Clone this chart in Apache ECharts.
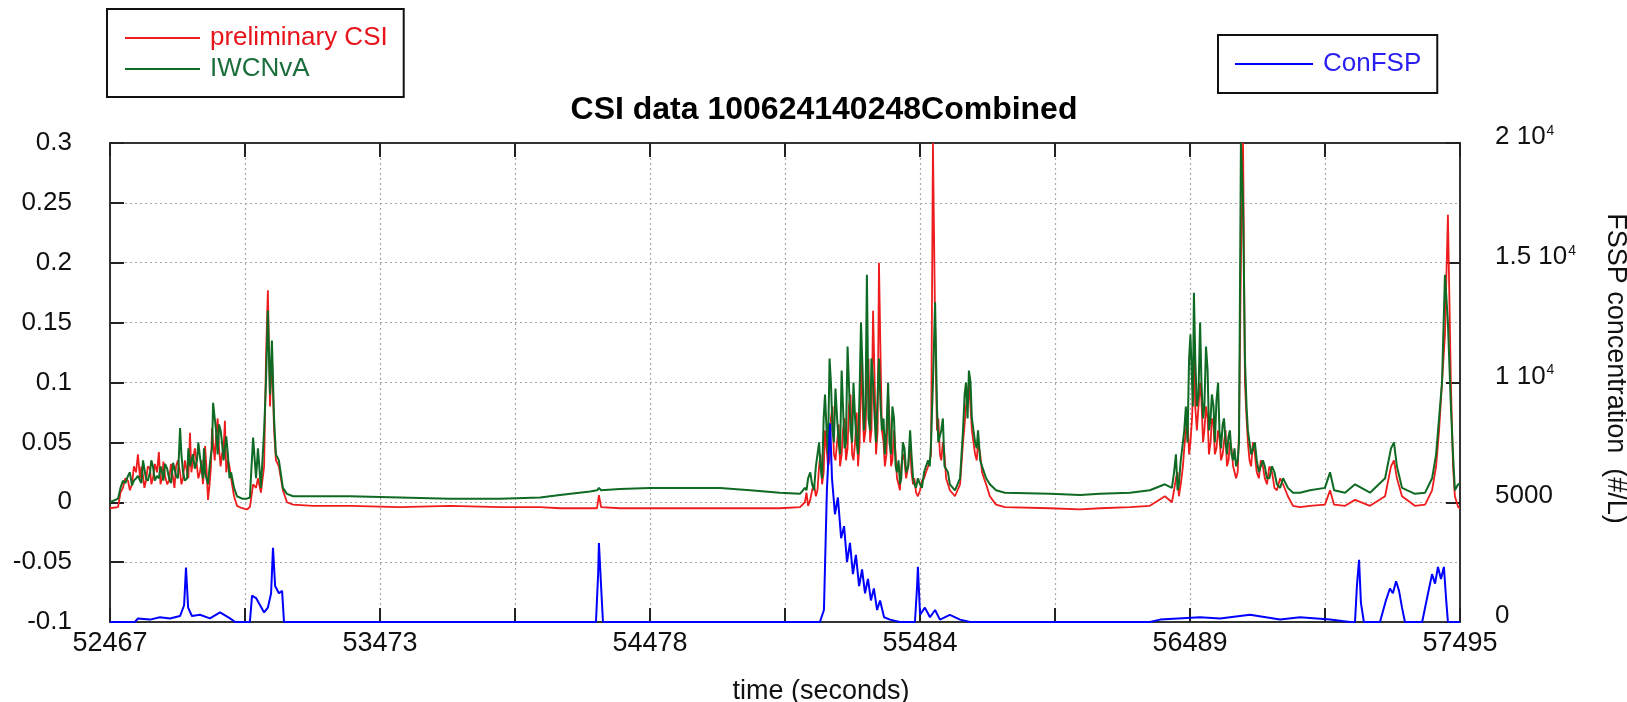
<!DOCTYPE html>
<html>
<head>
<meta charset="utf-8">
<title>CSI data 100624140248Combined</title>
<script src="https://cdn.jsdelivr.net/npm/echarts@6/dist/echarts.min.js"></script>
<style>
  html, body { margin: 0; padding: 0; background: #fff; }
  #main { width: 1627px; height: 702px; }
</style>
</head>
<body>
<div id="main"></div>
<script>
// time axis (seconds)
var T0 = 52467;
var T1 = 57495;

// CSI samples, shared time base for both CSI traces
var csiTime = [
  52467, 52497, 52515, 52534, 52549, 52564, 52571, 52579, 52590, 52601,
  52616, 52627, 52642, 52649, 52661, 52672, 52687, 52702, 52713, 52728,
  52739, 52754, 52765, 52776, 52791, 52802, 52813, 52821, 52832, 52843,
  52851, 52862, 52873, 52884, 52895, 52906, 52918, 52929, 52940, 52959,
  52977, 52988, 53000, 53011, 53018, 53029, 53041, 53048, 53055, 53063,
  53070, 53078, 53085, 53096, 53111, 53126, 53149, 53223, 53361, 53547,
  53733, 53920, 54069, 54143, 54255, 54281, 54288, 54296, 54366, 54478,
  54627, 54739, 54851, 54962, 55037, 55055, 55067, 55082, 55096, 55108,
  55119, 55130, 55141, 55152, 55163, 55175, 55186, 55197, 55208, 55219,
  55231, 55242, 55253, 55264, 55275, 55286, 55298, 55309, 55320, 55331,
  55342, 55353, 55365, 55376, 55387, 55398, 55409, 55420, 55432, 55447,
  55458, 55469, 55484, 55499, 55514, 55525, 55532, 55540, 55547, 55558,
  55569, 55581, 55595, 55614, 55633, 55644, 55655, 55666, 55677, 55689,
  55700, 55715, 55730, 55744, 55767, 55800, 55968, 56080, 56154, 56266,
  56340, 56396, 56422, 56437, 56448, 56463, 56474, 56486, 56497, 56504,
  56515, 56527, 56538, 56549, 56560, 56571, 56582, 56594, 56605, 56616,
  56627, 56638, 56650, 56661, 56672, 56679, 56687, 56694, 56705, 56717,
  56731, 56746, 56761, 56776, 56795, 56813, 56836, 56854, 56873, 56899,
  56936, 56992, 57011, 57026, 57067, 57104, 57160, 57216, 57238, 57249,
  57260, 57279, 57327, 57365, 57391, 57406, 57417, 57428, 57439, 57450,
  57461, 57469, 57476, 57488, 57495
];

// preliminary CSI
var csiPrelim = [
  -0.005, -0.004, 0.012, 0.018, 0.015, 0.025, 0.040, 0.020, 0.022, 0.018,
  0.028, 0.020, 0.025, 0.042, 0.020, 0.022, 0.018, 0.020, 0.030, 0.025,
  0.020, 0.025, 0.058, 0.035, 0.030, 0.025, 0.015, 0.047, 0.002, 0.030,
  0.050, 0.055, 0.045, 0.040, 0.068, 0.035, 0.020, 0.005, -0.003, -0.005,
  -0.006, -0.004, 0.015, 0.012, 0.020, 0.008, 0.030, 0.120, 0.177, 0.080,
  0.125, 0.060, 0.035, 0.030, 0.010, 0.000, -0.002, -0.003, -0.003, -0.004,
  -0.003, -0.004, -0.004, -0.005, -0.005, -0.005, 0.006, -0.004, -0.005, -0.005,
  -0.005, -0.005, -0.005, -0.005, -0.004, 0.000, -0.003, 0.010, 0.005, 0.030,
  0.015, 0.060, 0.030, 0.070, 0.040, 0.050, 0.030, 0.060, 0.035, 0.080,
  0.040, 0.050, 0.030, 0.120, 0.050, 0.100, 0.050, 0.160, 0.040, 0.200,
  0.060, 0.030, 0.090, 0.030, 0.060, 0.020, 0.010, 0.040, 0.020, 0.050,
  0.015, 0.008, 0.010, 0.020, 0.030, 0.040, 0.300, 0.150, 0.060, 0.040,
  0.050, 0.020, 0.010, 0.005, 0.015, 0.050, 0.080, 0.100, 0.060, 0.040,
  0.050, 0.025, 0.015, 0.005, -0.002, -0.004, -0.005, -0.006, -0.005, -0.004,
  -0.003, 0.005, 0.000, 0.020, 0.005, 0.030, 0.060, 0.040, 0.070, 0.120,
  0.060, 0.100, 0.050, 0.080, 0.040, 0.070, 0.040, 0.060, 0.035, 0.050,
  0.030, 0.050, 0.030, 0.020, 0.060, 0.200, 0.300, 0.100, 0.050, 0.030,
  0.040, 0.020, 0.030, 0.015, 0.025, 0.010, 0.015, 0.005, -0.003, -0.004,
  -0.003, -0.002, 0.010, -0.002, -0.003, 0.002, -0.003, 0.005, 0.030, 0.035,
  0.020, 0.005, -0.003, -0.002, 0.010, 0.030, 0.060, 0.100, 0.140, 0.240,
  0.100, 0.030, 0.005, -0.004, -0.005
];

// IWCNvA
var csiIwc = [
  0.000, 0.003, 0.018, 0.022, 0.014, 0.020, 0.022, 0.018, 0.035, 0.020,
  0.025, 0.030, 0.022, 0.020, 0.025, 0.032, 0.020, 0.033, 0.022, 0.062,
  0.025, 0.020, 0.030, 0.040, 0.035, 0.038, 0.020, 0.025, 0.015, 0.040,
  0.083, 0.060, 0.065, 0.050, 0.045, 0.040, 0.025, 0.012, 0.005, 0.003,
  0.003, 0.004, 0.054, 0.020, 0.045, 0.012, 0.060, 0.100, 0.160, 0.090,
  0.135, 0.070, 0.040, 0.035, 0.012, 0.007, 0.005, 0.005, 0.005, 0.004,
  0.003, 0.003, 0.004, 0.006, 0.009, 0.010, 0.012, 0.010, 0.011, 0.012,
  0.012, 0.012, 0.010, 0.008, 0.007, 0.012, 0.020, 0.015, 0.030, 0.050,
  0.020, 0.090, 0.040, 0.100, 0.050, 0.070, 0.040, 0.080, 0.050, 0.100,
  0.050, 0.070, 0.040, 0.150, 0.060, 0.190, 0.060, 0.100, 0.050, 0.120,
  0.060, 0.040, 0.100, 0.040, 0.070, 0.025, 0.015, 0.050, 0.025, 0.060,
  0.020, 0.012, 0.015, 0.025, 0.035, 0.050, 0.100, 0.167, 0.080, 0.050,
  0.070, 0.030, 0.015, 0.010, 0.020, 0.060, 0.100, 0.110, 0.070, 0.050,
  0.060, 0.030, 0.020, 0.015, 0.010, 0.008, 0.007, 0.006, 0.007, 0.008,
  0.010, 0.015, 0.012, 0.040, 0.015, 0.050, 0.080, 0.120, 0.100, 0.175,
  0.080, 0.150, 0.070, 0.130, 0.060, 0.090, 0.050, 0.100, 0.045, 0.070,
  0.040, 0.060, 0.035, 0.030, 0.050, 0.300, 0.250, 0.120, 0.060, 0.040,
  0.050, 0.025, 0.035, 0.020, 0.030, 0.015, 0.020, 0.012, 0.008, 0.008,
  0.010, 0.012, 0.025, 0.010, 0.008, 0.015, 0.008, 0.020, 0.045, 0.050,
  0.030, 0.012, 0.007, 0.008, 0.020, 0.040, 0.070, 0.100, 0.190, 0.150,
  0.080, 0.040, 0.010, 0.015, 0.015
];

// extra CSI samples inside the busy stretches (merged with the ones above)
var csiTimeB = [
  52506, 52524, 52541, 52556, 52584, 52595, 52608, 52621, 52634, 52655,
  52666, 52680, 52694, 52707, 52720, 52733, 52746, 52759, 52770, 52783,
  52796, 52808, 52817, 52826, 52838, 52847, 52857, 52868, 52879, 52890,
  52900, 52912,
  55061, 55075, 55089, 55102, 55113, 55125, 55136, 55147, 55158, 55169,
  55181, 55192, 55203, 55214, 55225, 55236, 55248, 55259, 55270, 55281,
  55292, 55303, 55315, 55326, 55337, 55348, 55359, 55370, 55381, 55393,
  55404, 55414, 55426, 55440,
  55452, 55463, 55476, 55491, 55506, 55520, 55552, 55563, 55575, 55588,
  55650, 55661, 55672, 55683, 55695, 55708, 55722,
  56430, 56443, 56455, 56468, 56480, 56491, 56500, 56509, 56521, 56532,
  56543, 56555, 56566, 56577, 56588, 56599, 56611, 56622, 56633, 56644,
  56655, 56667, 56700, 56711, 56724, 56738, 56753, 56768, 56785, 56804,
  56825
];
var csiPrelimB = [
  0.008, 0.020, 0.010, 0.030, 0.030, 0.012, 0.030, 0.015, 0.032, 0.015,
  0.034, 0.015, 0.032, 0.012, 0.035, 0.015, 0.035, 0.020, 0.025, 0.045,
  0.020, 0.035, 0.025, 0.030, 0.015, 0.062, 0.035, 0.070, 0.030, 0.045,
  0.025, 0.030,
  0.008, 0.002, 0.015, 0.010, 0.040, 0.025, 0.045, 0.035, 0.080, 0.035,
  0.065, 0.040, 0.070, 0.045, 0.090, 0.035, 0.075, 0.050, 0.080, 0.060,
  0.120, 0.060, 0.100, 0.060, 0.120, 0.050, 0.040, 0.070, 0.035, 0.040,
  0.015, 0.030, 0.035, 0.030,
  0.025, 0.020, 0.005, 0.018, 0.025, 0.035, 0.070, 0.035, 0.040, 0.015,
  0.065, 0.090, 0.080, 0.050, 0.035, 0.040, 0.020,
  0.010, 0.025, 0.015, 0.045, 0.070, 0.050, 0.090, 0.080, 0.060, 0.085,
  0.060, 0.070, 0.050, 0.065, 0.045, 0.055, 0.040, 0.060, 0.035, 0.045,
  0.030, 0.025, 0.070, 0.035, 0.050, 0.025, 0.035, 0.020, 0.030, 0.012,
  0.020
];
var csiIwcB = [
  0.012, 0.016, 0.025, 0.018, 0.016, 0.028, 0.018, 0.035, 0.018, 0.030,
  0.018, 0.028, 0.016, 0.028, 0.020, 0.040, 0.018, 0.045, 0.030, 0.028,
  0.050, 0.028, 0.045, 0.020, 0.030, 0.045, 0.070, 0.040, 0.060, 0.035,
  0.055, 0.020,
  0.010, 0.025, 0.010, 0.040, 0.030, 0.070, 0.060, 0.120, 0.060, 0.095,
  0.050, 0.110, 0.045, 0.130, 0.060, 0.100, 0.050, 0.095, 0.110, 0.080,
  0.070, 0.120, 0.070, 0.090, 0.080, 0.070, 0.060, 0.050, 0.080, 0.030,
  0.035, 0.020, 0.045, 0.030,
  0.040, 0.015, 0.020, 0.012, 0.030, 0.030, 0.050, 0.060, 0.030, 0.025,
  0.090, 0.070, 0.100, 0.060, 0.045, 0.035, 0.030,
  0.025, 0.010, 0.035, 0.060, 0.050, 0.140, 0.080, 0.120, 0.090, 0.100,
  0.080, 0.110, 0.070, 0.080, 0.085, 0.060, 0.065, 0.050, 0.055, 0.040,
  0.045, 0.035, 0.080, 0.050, 0.040, 0.035, 0.030, 0.030, 0.020, 0.025,
  0.012
];

// ConFSP (#/L), right axis
var fsspTime = [
  52467, 52560, 52571, 52616, 52653, 52690, 52728, 52743, 52750, 52758,
  52772, 52802, 52839, 52877, 52914, 52933, 52988, 52996, 53011, 53026,
  53041, 53055, 53067, 53074, 53082, 53096, 53108, 53115, 54255, 54277,
  54285, 54288, 54296, 54303, 55111, 55126, 55137, 55149, 55156, 55167,
  55178, 55190, 55201, 55212, 55223, 55234, 55245, 55257, 55268, 55279,
  55290, 55301, 55312, 55324, 55335, 55350, 55372, 55409, 55465, 55473,
  55476, 55484, 55502, 55521, 55540, 55558, 55595, 55633, 55670, 56340,
  56378, 56527, 56601, 56713, 56825, 56899, 57011, 57085, 57104, 57111,
  57119, 57126, 57137, 57197, 57219, 57234, 57245, 57257, 57268, 57279,
  57290, 57354, 57376, 57391, 57402, 57413, 57424, 57435, 57443, 57450,
  57495
];
var fsspConc = [
  0, 0, 150, 100, 200, 150, 250, 700, 2270, 600,
  250, 300, 150, 400, 150, 0, 0, 1100, 1000, 700,
  400, 600, 1200, 3100, 1500, 1200, 1300, 0, 0, 0,
  2000, 3300, 1500, 0, 0, 500, 5500, 8300, 6000, 4500,
  5200, 3500, 4000, 2500, 3300, 2000, 2800, 1500, 2200, 1200,
  1800, 900, 1400, 500, 900, 200, 100, 0, 0, 1500,
  2300, 300, 600, 200, 500, 100, 300, 100, 0, 0,
  100, 200, 150, 300, 100, 200, 100, 0, 0, 1500,
  2600, 800, 0, 0, 900, 1400, 1200, 1700, 1300, 600,
  0, 0, 1200, 2000, 1600, 2300, 1800, 2300, 1000, 0,
  0
];

var xInterval = (T1 - T0) / 10;   // minor tick every 502.8 s, label every other one
var FONT = 'Liberation Sans, Arial, sans-serif';

// pairs [t - T0, value] from one or two sample sets, sorted by time
function zip(times, vals, times2, vals2) {
    var out = [];
    var i;
    for (i = 0; i < times.length; i++) out.push([times[i] - T0, vals[i]]);
    if (times2) {
        for (i = 0; i < times2.length; i++) out.push([times2[i] - T0, vals2[i]]);
        out.sort(function (a, b) { return a[0] - b[0]; });
    }
    return out;
}

var rightLabels = {
    0: '0',
    5000: '5000',
    10000: '{a|1 10}{s|4}',
    15000: '{a|1.5 10}{s|4}',
    20000: '{a|2 10}{s|4}'
};

var frameLine = { show: true, onZero: false, lineStyle: { color: '#333', width: 2 } };
var innerTick = { show: true, inside: true, length: 14, lineStyle: { color: '#222', width: 2 } };
var dotGrid = { show: true, lineStyle: { color: '#a8a8a8', width: 1.2, type: [2, 3] } };

var option = {
    animation: false,
    backgroundColor: '#fff',
    title: {
        text: 'CSI data 100624140248Combined',
        left: 819,
        top: 89,
        textAlign: 'center',
        textStyle: { fontFamily: FONT, fontSize: 32, fontWeight: 'bold', color: '#000' }
    },
    legend: [{
        orient: 'vertical',
        left: 107,
        top: 9,
        padding: [16, 16, 15, 18],
        icon: 'rect',
        itemWidth: 75,
        itemHeight: 2,
        itemGap: 5,
        borderColor: '#111',
        borderWidth: 2,
        backgroundColor: '#fff',
        textStyle: { fontFamily: FONT, fontSize: 26, lineHeight: 26, padding: [0, 0, 0, 5] },
        data: [
            { name: 'preliminary CSI', textStyle: { color: '#e8141c' } },
            { name: 'IWCNvA', textStyle: { color: '#1b6e3c' } }
        ]
    }, {
        orient: 'vertical',
        left: 1218,
        top: 35,
        padding: [16, 16, 16, 17],
        icon: 'rect',
        itemWidth: 78,
        itemHeight: 2,
        borderColor: '#111',
        borderWidth: 2,
        backgroundColor: '#fff',
        textStyle: { fontFamily: FONT, fontSize: 26, lineHeight: 26, padding: [0, 0, 0, 5] },
        data: [{ name: 'ConFSP', textStyle: { color: '#2a1ef0' } }]
    }],
    grid: { left: 110, right: 167, top: 143, bottom: 80, outerBoundsMode: 'none', containLabel: false },
    xAxis: [{
        type: 'value',
        position: 'bottom',
        min: 0,
        max: T1 - T0,
        interval: xInterval,
        name: 'time (seconds)',
        nameLocation: 'middle',
        nameGap: 56,
        nameTextStyle: { fontFamily: FONT, fontSize: 27, color: '#111', padding: [0, 0, 0, 72] },
        axisLine: frameLine,
        axisTick: innerTick,
        splitLine: dotGrid,
        axisLabel: {
            margin: 8,
            fontFamily: FONT,
            fontSize: 27,
            color: '#111',
            showMinLabel: true,
            showMaxLabel: true,
            formatter: function (v) {
                var k = Math.round(v / xInterval);
                return k % 2 === 0 ? String(Math.round(v + T0)) : '';
            }
        }
    }, {
        type: 'value',
        position: 'top',
        min: 0,
        max: T1 - T0,
        interval: xInterval,
        axisLine: frameLine,
        axisTick: innerTick,
        axisLabel: { show: false },
        splitLine: { show: false }
    }],
    yAxis: [{
        type: 'value',
        position: 'left',
        min: -0.1,
        max: 0.3,
        interval: 0.05,
        axisLine: frameLine,
        axisTick: innerTick,
        splitLine: dotGrid,
        axisLabel: {
            margin: 38,
            fontFamily: FONT,
            fontSize: 26,
            color: '#111',
            padding: [0, 0, 11, 0],
            formatter: function (v) { return String(+v.toFixed(2)); }
        }
    }, {
        type: 'value',
        position: 'right',
        min: 0,
        max: 20000,
        interval: 5000,
        name: 'FSSP concentration  (#/L)',
        nameLocation: 'middle',
        nameRotate: -90,
        nameGap: 142,
        nameTextStyle: { fontFamily: FONT, fontSize: 27, color: '#111', padding: [0, 28, 0, 0] },
        axisLine: frameLine,
        axisTick: innerTick,
        splitLine: { show: false },
        axisLabel: {
            margin: 35,
            fontFamily: FONT,
            fontSize: 26,
            color: '#111',
            padding: [0, 0, 12, 0],
            formatter: function (v) { return rightLabels[v] !== undefined ? rightLabels[v] : ''; },
            rich: {
                a: { fontFamily: FONT, fontSize: 26, lineHeight: 26, color: '#111', verticalAlign: 'bottom' },
                s: { fontFamily: FONT, fontSize: 14, lineHeight: 14, color: '#111', verticalAlign: 'top', padding: [0, 0, 22, 1] }
            }
        }
    }],
    series: [{
        name: 'preliminary CSI',
        type: 'line',
        xAxisIndex: 0,
        yAxisIndex: 0,
        symbol: 'none',
        lineStyle: { color: '#ee1c1c', width: 1.8 },
        itemStyle: { color: '#ee1c1c' },
        data: zip(csiTime, csiPrelim, csiTimeB, csiPrelimB)
    }, {
        name: 'IWCNvA',
        type: 'line',
        xAxisIndex: 0,
        yAxisIndex: 0,
        symbol: 'none',
        lineStyle: { color: '#0f6a24', width: 2 },
        itemStyle: { color: '#0f6a24' },
        data: zip(csiTime, csiIwc, csiTimeB, csiIwcB)
    }, {
        name: 'ConFSP',
        type: 'line',
        xAxisIndex: 0,
        yAxisIndex: 1,
        symbol: 'none',
        lineStyle: { color: '#0000ff', width: 2 },
        itemStyle: { color: '#0000ff' },
        data: zip(fsspTime, fsspConc)
    }]
};

var chart = echarts.init(document.getElementById('main'));
chart.setOption(option);
</script>
</body>
</html>
